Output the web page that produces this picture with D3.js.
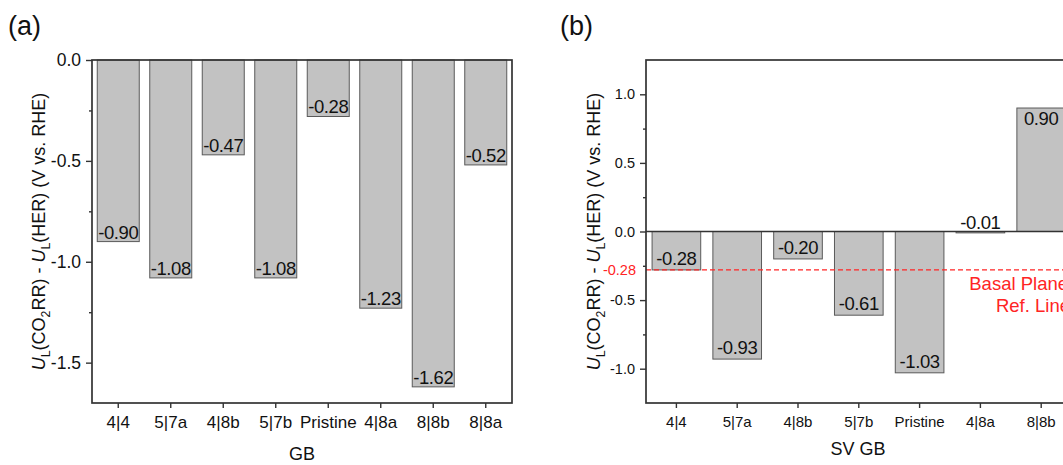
<!DOCTYPE html>
<html>
<head>
<meta charset="utf-8">
<script src="https://cdn.jsdelivr.net/npm/d3@7"></script>
<style>
  html, body { margin: 0; padding: 0; background: #fff; }
  svg { display: block; font-family: "Liberation Sans", Arial, sans-serif; }
</style>
</head>
<body>
<svg id="chart" width="1063" height="465"></svg>
<script>
// Grain-boundary limiting-potential differences
const gbCategories = ["4|4", "5|7a", "4|8b", "5|7b", "Pristine", "4|8a", "8|8b", "8|8a"];
const gbValues     = [-0.90, -1.08, -0.47, -1.08, -0.28, -1.23, -1.62, -0.52];
const gbTicks      = [0, -0.5, -1.0, -1.5];
const gbMinorTicks = [-0.25, -0.75, -1.25];

// Single-vacancy grain boundaries
const svCategories = ["4|4", "5|7a", "4|8b", "5|7b", "Pristine", "4|8a", "8|8b"];
const svValues     = [-0.28, -0.93, -0.20, -0.61, -1.03, -0.01, 0.90];
const svTicks      = [1.0, 0.5, 0.0, -0.5, -1.0];
const svMinorTicks = [0.75, 0.25, -0.25, -0.75];
const basalRef     = -0.28;

const svg = d3.select("#chart");
const fmt1 = d => d.toFixed(1);
const fmt2 = d => d.toFixed(2);
const frameColor = "#333";
const barFill = "#c2c2c2";
const barStroke = "#5a5a5a";
const red = "#ff2424";

function yTitle(g, x, yMid, size) {
  const t = g.append("text")
    .attr("transform", `translate(${x},${yMid}) rotate(-90)`)
    .attr("text-anchor", "middle")
    .attr("font-size", size)
    .attr("fill", "#111");
  const sub = size * 0.68;
  const parts = [
    ["U", "i"], ["L", "s"], ["(CO", ""], ["2", "s"], ["RR) - ", ""],
    ["U", "i"], ["L", "s"], ["(HER) (V vs. RHE)", ""]
  ];
  let shifted = false;
  parts.forEach(([txt, kind]) => {
    const ts = t.append("tspan").text(txt);
    if (kind === "i") ts.attr("font-style", "italic");
    if (kind === "s") {
      ts.attr("font-size", sub).attr("dy", size * 0.3);
      shifted = true;
    } else if (shifted) {
      ts.attr("dy", -size * 0.3);
      shifted = false;
    }
  });
}

function styleAxis(g, fontSize) {
  g.select(".domain").remove();
  g.selectAll("line").attr("stroke", frameColor).attr("stroke-width", 1.4);
  g.selectAll("text").attr("font-size", fontSize).attr("fill", "#111")
    .attr("font-family", "Liberation Sans, Arial, sans-serif");
}

// ---------- Panel (a) ----------
{
  const L = 92, R = 512, T = 60, B = 403;
  const x = d3.scaleBand().domain(gbCategories).range([L, R])
    .paddingInner(0.2).paddingOuter(0.1);
  const y = d3.scaleLinear().domain([-1.7, 0]).range([B, T]);
  const g = svg.append("g");

  g.append("text").attr("x", 8).attr("y", 35).attr("font-size", 27)
    .attr("fill", "#111").text("(a)");

  g.selectAll("rect.bar").data(gbValues).join("rect")
    .attr("class", "bar")
    .attr("x", (d, i) => x(gbCategories[i]))
    .attr("width", x.bandwidth())
    .attr("y", d => y(Math.max(0, d)))
    .attr("height", d => Math.abs(y(d) - y(0)))
    .attr("fill", barFill).attr("stroke", barStroke).attr("stroke-width", 1);

  g.selectAll("text.val").data(gbValues).join("text")
    .attr("class", "val")
    .attr("x", (d, i) => x(gbCategories[i]) + x.bandwidth() / 2)
    .attr("y", d => y(d) - 3)
    .attr("text-anchor", "middle").attr("font-size", 18.5)
    .attr("letter-spacing", -0.4).attr("fill", "#111")
    .text(fmt2);

  const ya = g.append("g").attr("transform", `translate(${L},0)`)
    .call(d3.axisLeft(y).tickValues(gbTicks).tickFormat(fmt1).tickSize(6).tickPadding(5));
  styleAxis(ya, 17.5);
  const ym = g.append("g").attr("transform", `translate(${L},0)`)
    .call(d3.axisLeft(y).tickValues(gbMinorTicks).tickFormat("").tickSize(3));
  styleAxis(ym, 17.5);

  const xa = g.append("g").attr("transform", `translate(0,${B})`)
    .call(d3.axisBottom(x).tickSize(5).tickPadding(8));
  styleAxis(xa, 17);

  g.append("rect").attr("x", L).attr("y", T).attr("width", R - L).attr("height", B - T)
    .attr("fill", "none").attr("stroke", frameColor).attr("stroke-width", 1.7);

  g.append("text").attr("x", (L + R) / 2).attr("y", 460).attr("text-anchor", "middle")
    .attr("font-size", 18).attr("fill", "#111").text("GB");
  yTitle(g, 45, (T + B) / 2, 18);
}

// ---------- Panel (b) ----------
{
  const L = 646, T = 60, B = 403, step = 60.8;
  const R = L + step * svCategories.length;
  const frameR = L + step * 8;
  const x = d3.scaleBand().domain(svCategories).range([L, R])
    .paddingInner(0.2).paddingOuter(0.1);
  const y = d3.scaleLinear().domain([-1.25, 1.25]).range([B, T]);
  const g = svg.append("g");

  g.append("text").attr("x", 560).attr("y", 35).attr("font-size", 27)
    .attr("fill", "#111").text("(b)");

  g.selectAll("rect.bar").data(svValues).join("rect")
    .attr("class", "bar")
    .attr("x", (d, i) => x(svCategories[i]))
    .attr("width", x.bandwidth())
    .attr("y", d => y(Math.max(0, d)))
    .attr("height", d => Math.abs(y(d) - y(0)))
    .attr("fill", barFill).attr("stroke", barStroke).attr("stroke-width", 1);

  // zero line
  g.append("line").attr("x1", L).attr("x2", frameR).attr("y1", y(0)).attr("y2", y(0))
    .attr("stroke", frameColor).attr("stroke-width", 1.6);

  g.selectAll("text.val").data(svValues).join("text")
    .attr("class", "val")
    .attr("x", (d, i) => x(svCategories[i]) + x.bandwidth() / 2)
    .attr("y", d => {
      const h = Math.abs(y(d) - y(0));
      if (h < 20) return y(0) - 3;          // too short: label sits above the axis
      return d < 0 ? y(d) - 5 : y(d) + 17;
    })
    .attr("text-anchor", "middle").attr("font-size", 18.5)
    .attr("letter-spacing", -0.4).attr("fill", "#111")
    .text(fmt2);

  // basal plane reference line
  g.append("line").attr("x1", L).attr("x2", frameR)
    .attr("y1", y(basalRef)).attr("y2", y(basalRef))
    .attr("stroke", red).attr("stroke-width", 1.1).attr("stroke-dasharray", "5,3");
  g.append("text").attr("x", L - 10).attr("y", y(basalRef) + 5)
    .attr("text-anchor", "end").attr("font-size", 14.5).attr("fill", red)
    .text(fmt2(basalRef));
  const refLabel = g.append("text").attr("text-anchor", "end")
    .attr("font-size", 18.5).attr("fill", red);
  refLabel.append("tspan").attr("x", 1068).attr("y", 290).text("Basal Plane");
  refLabel.append("tspan").attr("x", 1070).attr("y", 312).text("Ref. Line");

  const ya = g.append("g").attr("transform", `translate(${L},0)`)
    .call(d3.axisLeft(y).tickValues(svTicks).tickFormat(fmt1).tickSize(6).tickPadding(5));
  styleAxis(ya, 14.5);
  const ym = g.append("g").attr("transform", `translate(${L},0)`)
    .call(d3.axisLeft(y).tickValues(svMinorTicks).tickFormat("").tickSize(3));
  styleAxis(ym, 14.5);

  const xa = g.append("g").attr("transform", `translate(0,${B})`)
    .call(d3.axisBottom(x).tickSize(5).tickPadding(8));
  styleAxis(xa, 15);

  g.append("rect").attr("x", L).attr("y", T).attr("width", frameR - L).attr("height", B - T)
    .attr("fill", "none").attr("stroke", frameColor).attr("stroke-width", 1.7);

  g.append("text").attr("x", 858).attr("y", 455).attr("text-anchor", "middle")
    .attr("font-size", 18).attr("fill", "#111").text("SV GB");
  yTitle(g, 600, (T + B) / 2, 18);
}
</script>
</body>
</html>
